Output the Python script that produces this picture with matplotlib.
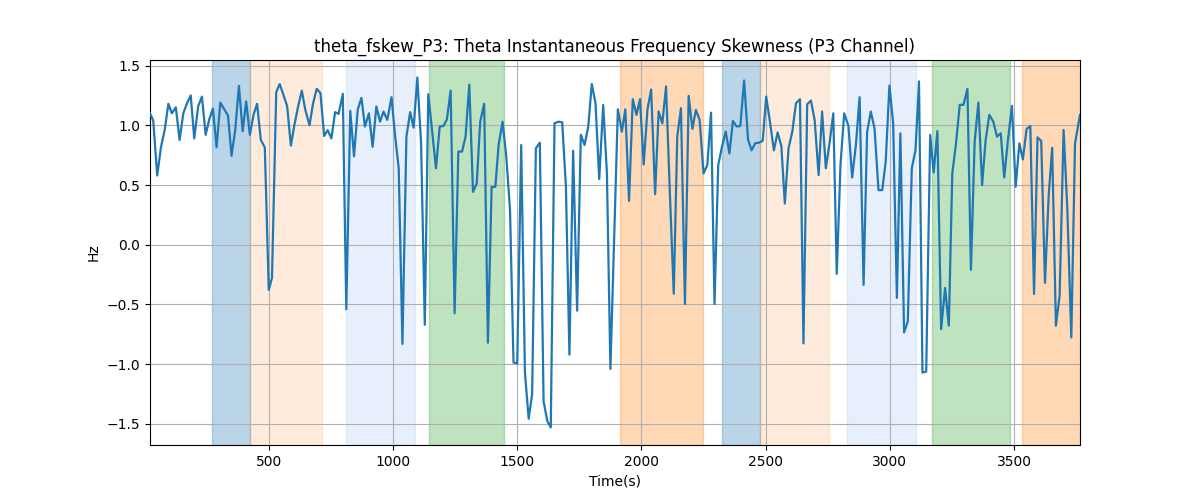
"""Theta instantaneous frequency skewness, P3 channel, with state spans."""
import matplotlib
matplotlib.use('Agg')
import matplotlib.pyplot as plt

TITLE = 'theta_fskew_P3: Theta Instantaneous Frequency Skewness (P3 Channel)'

# Sample times (s) and skewness values.
times = [
    22, 35, 51, 66, 81, 96, 110, 126, 141, 156, 170, 186, 200, 216, 231,
    246, 260, 275, 290, 305, 319, 336, 350, 365, 380, 395, 409, 424, 439,
    453, 468, 484, 500, 513, 530, 544, 559, 574, 589, 603, 618, 633, 647,
    664, 678, 693, 708, 723, 737, 752, 767, 781, 798, 812, 828, 843, 858,
    873, 887, 903, 918, 933, 948, 962, 977, 994, 1008, 1023, 1038, 1054,
    1069, 1083, 1098, 1113, 1128, 1142, 1157, 1173, 1188, 1203, 1217, 1232,
    1248, 1263, 1278, 1292, 1307, 1322, 1337, 1351, 1367, 1382, 1397, 1412,
    1425, 1441, 1456, 1471, 1485, 1500, 1516, 1531, 1546, 1560, 1575, 1591,
    1606, 1621, 1635, 1650, 1666, 1681, 1696, 1710, 1725, 1741, 1756, 1771,
    1786, 1800, 1815, 1830, 1846, 1861, 1875, 1890, 1905, 1921, 1935, 1950,
    1965, 1980, 1994, 2009, 2024, 2039, 2055, 2069, 2084, 2099, 2114, 2130,
    2144, 2159, 2175, 2190, 2205, 2219, 2234, 2250, 2265, 2280, 2294, 2309,
    2324, 2339, 2354, 2368, 2383, 2398, 2413, 2429, 2443, 2458, 2473, 2488,
    2502, 2518, 2533, 2548, 2563, 2577, 2592, 2607, 2622, 2638, 2652, 2667,
    2682, 2697, 2713, 2727, 2742, 2757, 2772, 2786, 2801, 2816, 2833, 2848,
    2863, 2878, 2894, 2908, 2923, 2938, 2954, 2969, 2983, 2998, 3013, 3028,
    3042, 3057, 3072, 3088, 3103, 3117, 3131, 3146, 3162, 3176, 3191, 3206,
    3222, 3237, 3251, 3266, 3281, 3296, 3312, 3326, 3341, 3356, 3371, 3385,
    3400, 3416, 3431, 3446, 3460, 3475, 3491, 3506, 3521, 3535, 3550, 3565,
    3580, 3594, 3609, 3624, 3639, 3653, 3668, 3683, 3699, 3714, 3730, 3745,
    3765,
]
skew = [
    1.10, 1.04, 0.58, 0.815, 0.96, 1.18, 1.10, 1.15, 0.877, 1.10, 1.18, 1.25,
    0.89, 1.16, 1.24, 0.92, 1.045, 1.14, 0.815, 1.19, 1.14, 1.08, 0.745,
    0.96, 1.33, 0.95, 1.20, 0.92, 1.09, 1.18, 0.877, 0.815, -0.378, -0.277,
    1.277, 1.345, 1.255, 1.16, 0.83, 1.00, 1.157, 1.29, 1.13, 1.00, 1.18,
    1.305, 1.27, 0.91, 0.96, 0.89, 1.11, 1.095, 1.263, -0.54, 1.12, 0.74,
    1.13, 1.23, 0.99, 1.10, 0.82, 1.157, 1.03, 1.115, 1.045, 1.235, 0.92,
    0.64, -0.83, 0.905, 1.11, 0.98, 1.40, 0.85, -0.67, 1.26, 0.96, 0.64,
    0.99, 0.994, 1.05, 1.29, -0.574, 0.78, 0.78, 0.905, 1.34, 0.443, 0.513,
    1.03, 1.18, -0.82, 0.485, 0.485, 0.835, 1.03, 0.737, 0.29, -0.986,
    -0.994, 0.835, -1.07, -1.457, -1.25, 0.807, 0.854, -1.31, -1.476, -1.53,
    1.017, 1.03, 1.025, 0.485, -0.92, 0.787, -0.552, 0.92, 0.835, 0.99,
    1.345, 1.185, 0.55, 1.17, 0.597, -1.04, 0.05, 1.134, 0.947, 1.134,
    0.367, 1.218, 1.087, 1.218, 0.672, 1.129, 1.30, 0.423, 1.115, 1.017,
    1.325, 0.45, -0.41, 0.905, 1.143, -0.496, 1.246, 0.97, 1.129, 1.045,
    0.597, 0.667, 1.106, -0.496, 0.667, 0.82, 0.947, 0.765, 1.036, 0.99,
    0.994, 1.375, 0.88, 0.79, 0.85, 0.854, 0.87, 1.24, 1.017, 0.79, 0.94,
    0.826, 0.345, 0.807, 0.947, 1.185, 1.218, -0.826, 1.176, 1.207, 1.045,
    0.583, 1.115, 0.64, 0.85, 1.10, -0.244, 0.667, 1.10, 0.994, 0.563,
    0.835, 1.235, -0.336, 0.941, 1.115, 0.975, 0.457, 0.457, 0.695, 1.333,
    1.017, -0.445, 0.933, -0.734, -0.641, 0.639, 0.793, 1.367, -1.07,
    -1.062, 0.919, 0.605, 0.952, -0.706, -0.361, -0.678, 0.597, 0.849,
    1.171, 1.171, 1.305, -0.21, 0.863, 1.19, 0.499, 0.871, 1.087, 1.031,
    0.905, 0.933, 0.563, 0.877, 1.162, 0.485, 0.849, 0.714, 0.969, 0.994,
    -0.412, 0.899, 0.868, -0.319, 0.415, 0.812, -0.678, -0.426, 0.961, 0.30,
    -0.776, 0.849, 1.087,
]

# Shaded intervals (start, end) and their fill style.
span_starts = [273, 426, 812, 1145, 1913, 2323, 2476, 2826, 3168, 3533]
span_ends = [426, 715, 1089, 1447, 2247, 2476, 2754, 3103, 3482, 3800]
span_kinds = ['blue', 'peach', 'pale', 'green', 'orange',
              'blue', 'peach', 'pale', 'green', 'orange']

SPAN_STYLE = {
    'blue':   ('tab:blue',   0.3),
    'peach':  ('tab:orange', 0.15),
    'pale':   ('cornflowerblue', 0.15),
    'green':  ('tab:green',  0.3),
    'orange': ('tab:orange', 0.3),
}


def main():
    fig, ax = plt.subplots(figsize=(12, 5))
    for s, e, kind in zip(span_starts, span_ends, span_kinds):
        color, alpha = SPAN_STYLE[kind]
        ax.axvspan(s, e, color=color, alpha=alpha, zorder=0)
    ax.plot(times, skew, color='tab:blue', linewidth=1.6, zorder=3)
    ax.set_xlim(times[0], times[-1])
    ax.set_title(TITLE)
    ax.set_xlabel('Time(s)')
    ax.set_ylabel('Hz')
    ax.grid(True)
    plt.savefig('out.png', dpi=100)
    plt.close()


if __name__ == '__main__':
    main()
